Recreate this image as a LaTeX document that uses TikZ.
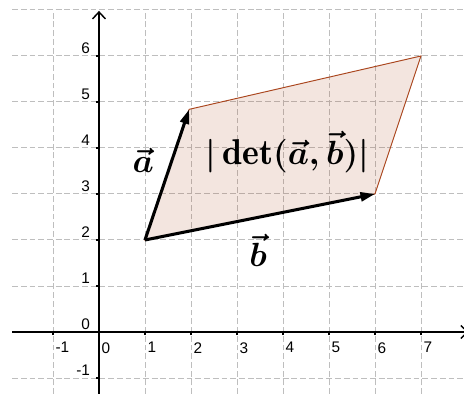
\documentclass[tikz,border=0pt]{standalone}
\usepackage{amsmath}
\usepackage{fontspec}
\setsansfont{Liberation Sans}
\usetikzlibrary{arrows.meta}

\definecolor{polybrown}{RGB}{170,70,30}
\definecolor{gridgray}{RGB}{190,190,190}

\begin{document}
\begin{tikzpicture}[
    gridline/.style={gridgray, line width=0.6pt, dash pattern=on 3.6pt off 1.8pt},
    axisline/.style={line width=0.9pt, -{Straight Barb[length=4.3pt, width=8pt]}},
    tickmark/.style={line width=0.8pt},
    ticklbl/.style={font=\sffamily\fontsize{9.5}{11}\selectfont, inner sep=0pt},
    vec/.style={line width=1.9pt, -{Triangle[length=9pt, width=5.5pt]}},
    poly/.style={draw=polybrown, line width=0.6pt, fill=polybrown, fill opacity=0.14},
    mathlbl/.style={font=\huge\boldmath},
]
\clip (-2.152,-1.348) rectangle (7.935,7.217);

% Grid
\foreach \y in {-1,...,7}
    \draw[gridline] (-1.89,\y) -- (7.935,\y);
\foreach \x in {-1,...,7}
    \draw[gridline] (\x,-1.348) -- (\x,7);

% Parallelogram
\coordinate (orig) at (1,2);
\coordinate (btip) at (6,3);
\coordinate (abtip) at (7,6);
\coordinate (atip) at (1.96,4.84);
\filldraw[poly] (orig) -- (btip) -- (abtip) -- (atip) -- cycle;

% Axes
\draw[axisline] (-1.89,0) -- (8.04,0);
\draw[axisline] (0,-1.348) -- (0,6.98);
\foreach \x in {-1,1,2,...,7}
    \draw[tickmark] (\x,0) -- (\x,-0.07);
\foreach \y in {-1,1,2,...,6}
    \draw[tickmark] (0,\y) -- (-0.07,\y);

% Tick labels
\foreach \x in {-1,...,7}
    \node[ticklbl, anchor=north west] (xl\x) at (\x+0.05,-0.22) {\x};
\foreach \y in {-1,...,6}
    \node[ticklbl, anchor=south east] (yl\y) at (-0.19,\y+0.04) {\y};

% Vectors
\draw[vec] (orig) -- (atip);
\draw[vec] (orig) -- (btip);

\node[mathlbl] (alab) at (0.96,3.74) {$\vec{a}$};
\node[mathlbl] (blab) at (3.46,1.78) {$\vec{b}$};
\node[mathlbl, font=\fontsize{22.2}{26}\selectfont\boldmath] (detlab) at (4.09,3.91) {$|\det(\vec{a},\vec{b})|$};

\end{tikzpicture}
\end{document}
